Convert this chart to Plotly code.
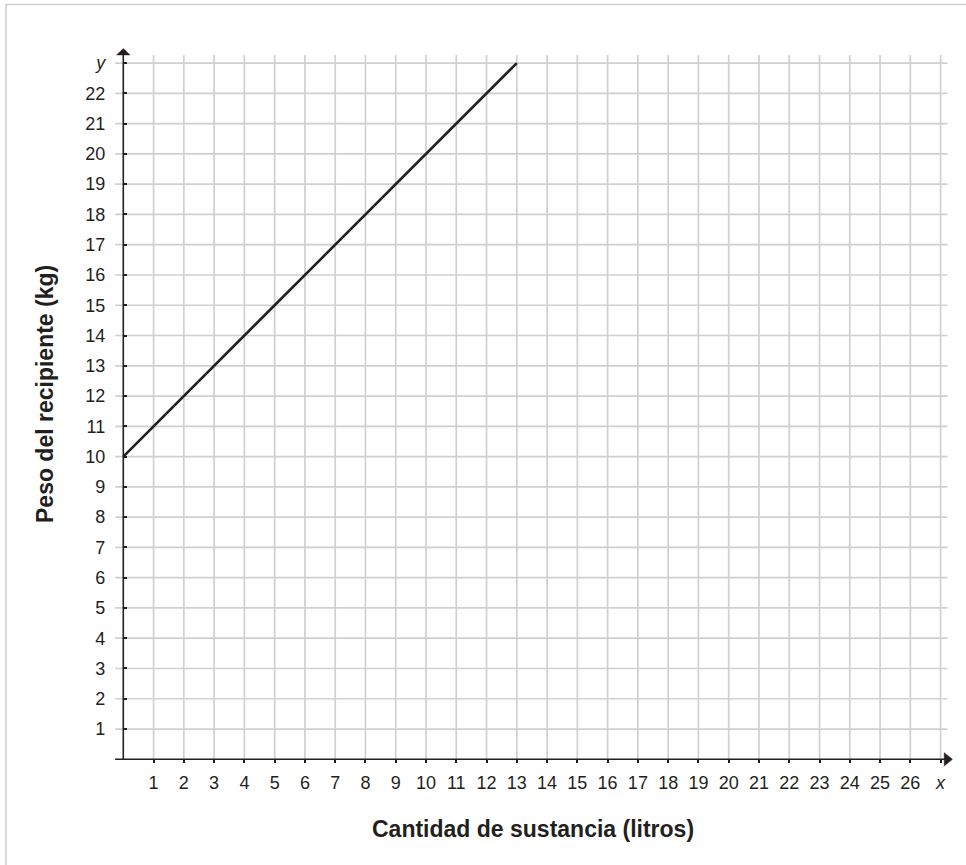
import plotly.graph_objects as go

# ---- data ----
x_ticks = list(range(1, 28))
x_tick_labels = [str(i) for i in range(1, 27)] + ["<i>x</i>"]
y_ticks = list(range(1, 24))
y_tick_labels = [str(i) for i in range(1, 23)] + ["<i>y</i>"]

litros = [0, 13]
peso = [10, 23]

x_title = "Cantidad de sustancia (litros)"
y_title = "Peso del recipiente (kg)"

# ---- layout geometry (pixels) ----
W, H = 966, 865
L, R, T, B = 100, 962, 40, 790
X0_PX, Y0_PX, UNIT = 123.3, 759.3, 30.27

xmin = (L - X0_PX) / UNIT
xmax = (R - X0_PX) / UNIT
ymax = (Y0_PX - T) / UNIT
ymin = (Y0_PX - B) / UNIT

def px(p):
    return (p - L) / (R - L)

def py(p):
    return (B - p) / (B - T)

INK = "#231f20"
GRID = "#d0d0d0"
FONT = "Liberation Sans, Arial, Helvetica, sans-serif"

fig = go.Figure()
fig.add_trace(go.Scatter(x=litros, y=peso, mode="lines",
                         line=dict(color=INK, width=2.6),
                         hoverinfo="skip", showlegend=False))

shapes = []
grid_top = 23.27
grid_right = 27.23
grid_left = -0.27
for xv in x_ticks:
    shapes.append(dict(type="line", xref="x", yref="y", x0=xv, x1=xv, y0=0, y1=grid_top,
                       line=dict(color=GRID, width=1.7), layer="below"))
for yv in y_ticks:
    shapes.append(dict(type="line", xref="x", yref="y", x0=grid_left, x1=grid_right, y0=yv, y1=yv,
                       line=dict(color=GRID, width=1.7), layer="below"))
# axis lines
shapes.append(dict(type="line", xref="x", yref="y", x0=grid_left, x1=27.15, y0=0, y1=0,
                   line=dict(color=INK, width=1.6)))
shapes.append(dict(type="line", xref="x", yref="y", x0=0, x1=0, y0=0, y1=23.3,
                   line=dict(color=INK, width=1.6)))
# arrow heads
shapes.append(dict(type="path", xref="x", yref="y",
                   path="M 27.12,-0.22 L 27.39,0 L 27.12,0.22 Z",
                   fillcolor=INK, line=dict(color=INK, width=0.5)))
shapes.append(dict(type="path", xref="x", yref="y",
                   path="M -0.22,23.27 L 0,23.48 L 0.22,23.27 Z",
                   fillcolor=INK, line=dict(color=INK, width=0.5)))
# outer frame (left and top edges)
shapes.append(dict(type="path", xref="paper", yref="paper",
                   path=f"M {px(6)},{py(880)} L {px(6)},{py(4.5)} L {px(980)},{py(4.5)}",
                   line=dict(color="#cfcfcf", width=1.5)))

annotations = [
    dict(text=f"<b>{x_title}</b>", xref="paper", yref="paper", x=px(533), y=py(829),
         showarrow=False, font=dict(family=FONT, size=23, color=INK), xanchor="center", yanchor="middle"),
    dict(text=f"<b>{y_title}</b>", xref="paper", yref="paper", x=px(45), y=py(263),
         showarrow=False, textangle=-90, font=dict(family=FONT, size=23, color=INK),
         xanchor="center", yanchor="top"),
]

fig.update_layout(
    width=W, height=H,
    margin=dict(l=L, r=W - R, t=T, b=H - B),
    paper_bgcolor="white", plot_bgcolor="rgba(0,0,0,0)",
    shapes=shapes, annotations=annotations, showlegend=False,
    xaxis=dict(range=[xmin, xmax], tickvals=x_ticks, ticktext=x_tick_labels,
               showgrid=False, zeroline=False, showline=False,
               anchor="free", position=(0 - ymin) / (ymax - ymin),
               ticks="outside", ticklen=3, tickwidth=1.5, tickcolor=INK,
               ticklabelstandoff=4,
               tickfont=dict(family=FONT, size=18, color=INK), fixedrange=True),
    yaxis=dict(range=[ymin, ymax], tickvals=y_ticks, ticktext=y_tick_labels,
               showgrid=False, zeroline=False, showline=False,
               anchor="free", position=(0 - xmin) / (xmax - xmin),
               ticks="inside", ticklen=3, tickwidth=1.5, tickcolor=INK,
               ticklabelstandoff=18,
               tickfont=dict(family=FONT, size=18, color=INK), fixedrange=True),
)

fig.write_html("out.html", config={"displayModeBar": False},
               post_script="document.body.style.margin='0';document.body.style.padding='0';")
